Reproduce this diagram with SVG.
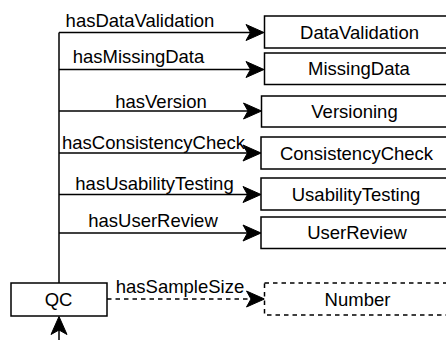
<svg xmlns="http://www.w3.org/2000/svg" xmlns:xlink="http://www.w3.org/1999/xlink" width="446" height="340" viewBox="0 0 446 340">
  <style>
    .box { fill: #ffffff; stroke: #000000; stroke-width: 1.5; }
    .dashed { stroke-dasharray: 4.5 4; }
    .edge { fill: none; stroke: #000000; stroke-width: 1.5; }
    .head { fill: #000000; stroke: #000000; stroke-width: 1; stroke-linejoin: miter; }
    text { font-family: "Liberation Sans", Arial, Helvetica, sans-serif; font-size: 18.5px; fill: #000000; text-anchor: middle; }
  </style>
  <defs>
    <!-- filled classic arrowhead with a notched back, tip at the origin pointing +x -->
    <path id="arrowhead" class="head" d="M0,0 L-18,-8 L-13.5,0 L-18,8 Z"/>
  </defs>

  <!-- connectors -->
  <g id="connectors">
    <path class="edge" d="M59,32.5 V283"/>
    <path class="edge" d="M59,32.5 H252"/>
    <path class="edge" d="M59,69.5 H252"/>
    <path class="edge" d="M59,111 H249"/>
    <path class="edge" d="M59,153 H248.5"/>
    <path class="edge" d="M59,194.5 H248.5"/>
    <path class="edge" d="M59,233 H248.5"/>
    <path class="edge dashed" d="M107,299 H252"/>
    <path class="edge" d="M59,340 V328"/>

    <use xlink:href="#arrowhead" href="#arrowhead" transform="translate(264,32.5)"/>
    <use xlink:href="#arrowhead" href="#arrowhead" transform="translate(264,69.5)"/>
    <use xlink:href="#arrowhead" href="#arrowhead" transform="translate(261.5,111)"/>
    <use xlink:href="#arrowhead" href="#arrowhead" transform="translate(261,153)"/>
    <use xlink:href="#arrowhead" href="#arrowhead" transform="translate(261,194.5)"/>
    <use xlink:href="#arrowhead" href="#arrowhead" transform="translate(261,233)"/>
    <use xlink:href="#arrowhead" href="#arrowhead" transform="translate(264.5,299)"/>
    <use xlink:href="#arrowhead" href="#arrowhead" transform="translate(59,316.5) rotate(-90)"/>

    <text x="140" y="27">hasDataValidation</text>
    <text x="138.5" y="62.5">hasMissingData</text>
    <text x="161" y="107.5">hasVersion</text>
    <text x="153.5" y="148.5">hasConsistencyCheck</text>
    <text x="154.5" y="189.5">hasUsabilityTesting</text>
    <text x="153" y="227">hasUserReview</text>
    <text x="180" y="293">hasSampleSize</text>
  </g>

  <!-- nodes -->
  <g id="node-datavalidation">
    <rect class="box" x="264.5" y="16" width="200" height="32"/>
    <text x="359.5" y="38.5">DataValidation</text>
  </g>
  <g id="node-missingdata">
    <rect class="box" x="264.5" y="53" width="200" height="31.5"/>
    <text x="359" y="75">MissingData</text>
  </g>
  <g id="node-versioning">
    <rect class="box" x="261.5" y="96" width="200" height="31"/>
    <text x="354.5" y="118">Versioning</text>
  </g>
  <g id="node-consistencycheck">
    <rect class="box" x="261" y="137" width="200" height="32"/>
    <text x="356.5" y="159.5">ConsistencyCheck</text>
  </g>
  <g id="node-usabilitytesting">
    <rect class="box" x="261" y="178" width="200" height="32"/>
    <text x="356" y="200.5">UsabilityTesting</text>
  </g>
  <g id="node-userreview">
    <rect class="box" x="261" y="217" width="200" height="31.5"/>
    <text x="357" y="239">UserReview</text>
  </g>
  <g id="node-number">
    <rect class="box dashed" x="264.5" y="283" width="200" height="32"/>
    <text x="357.5" y="305.5">Number</text>
  </g>
  <g id="node-qc">
    <rect class="box" x="11" y="283" width="96" height="33"/>
    <text x="58.5" y="306">QC</text>
  </g>
</svg>
